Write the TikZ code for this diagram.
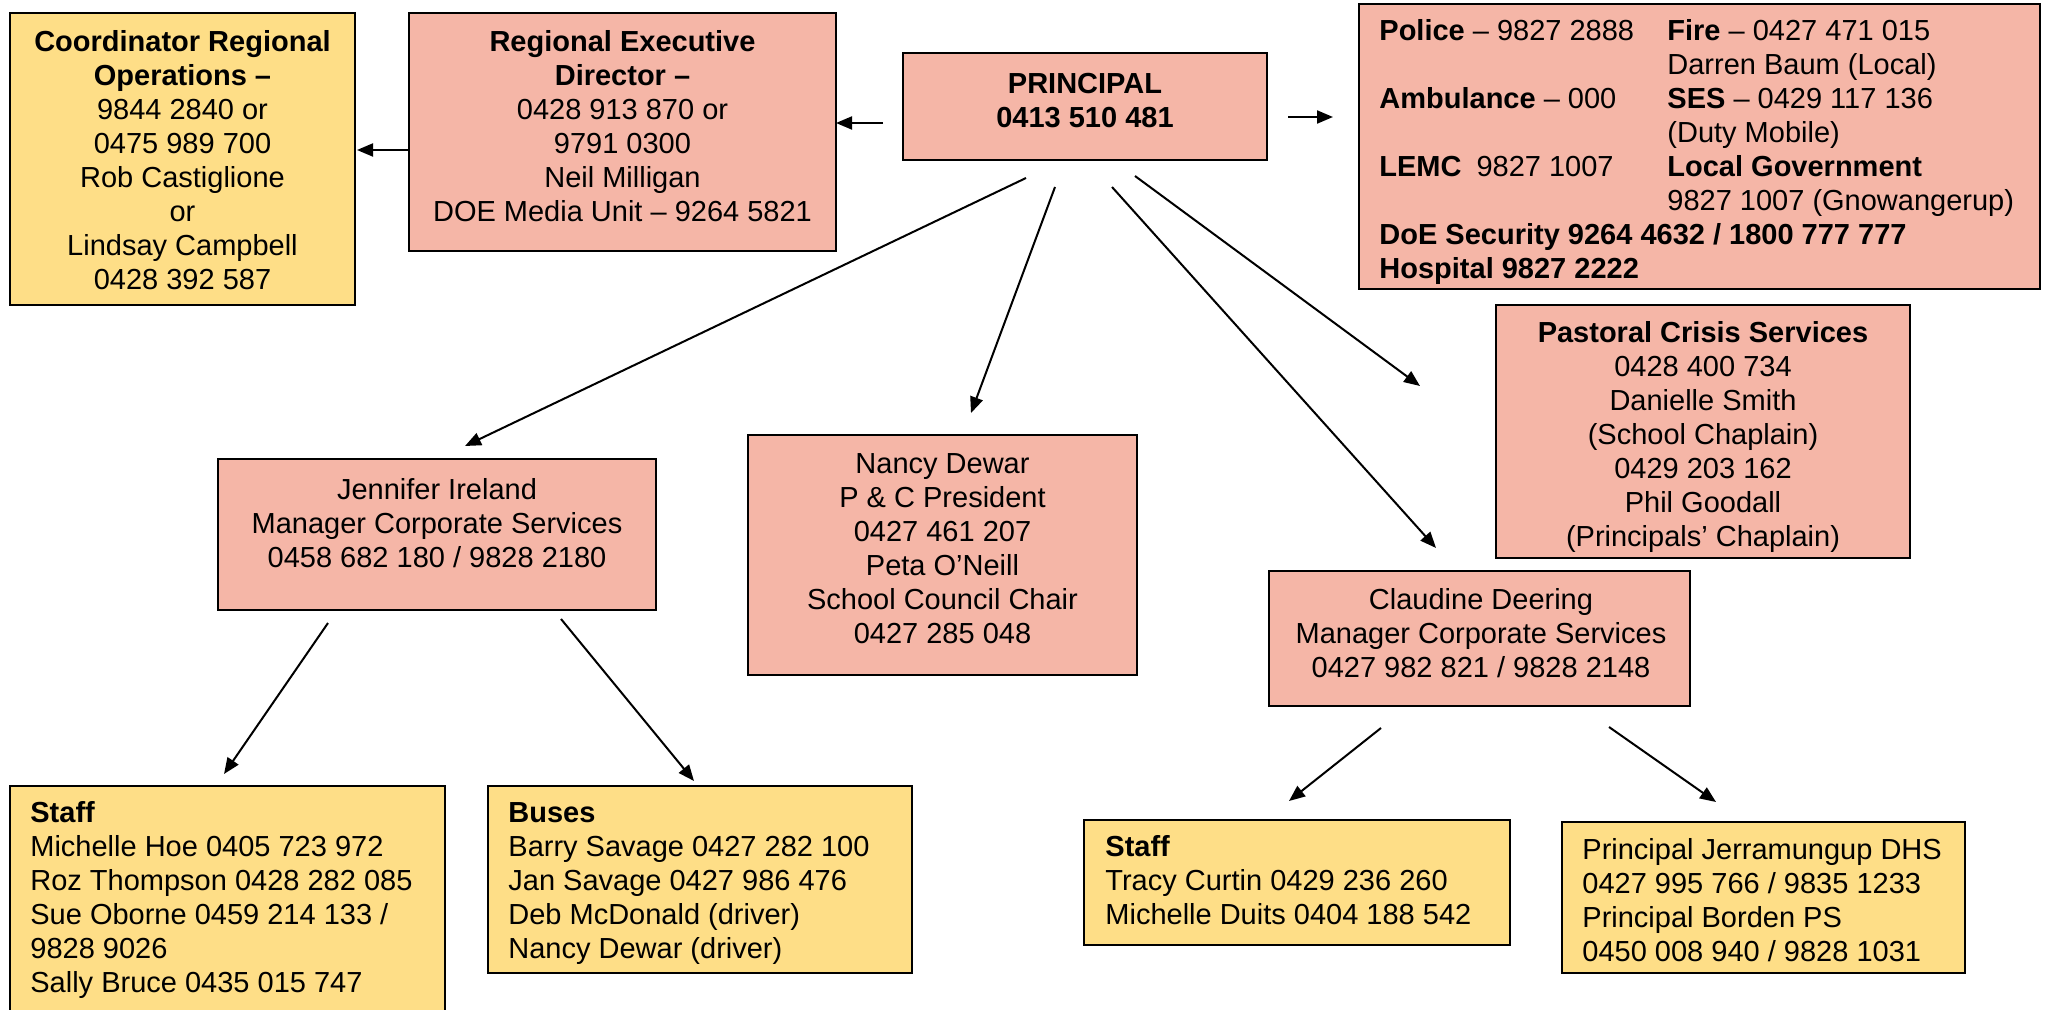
\documentclass[tikz,border=0pt]{standalone}
\usepackage{fontspec}
\setmainfont{Liberation Sans}
\usetikzlibrary{arrows.meta,fit}
\definecolor{boxpink}{RGB}{245,182,167}
\definecolor{boxyellow}{RGB}{254,222,135}

\begin{document}
\begin{tikzpicture}[x=0.5pt,y=-0.5pt,
  box/.style={draw=black, line width=1.25pt, inner sep=0pt, outer sep=0pt},
  pinkbox/.style={box, fill=boxpink},
  yellowbox/.style={box, fill=boxyellow},
  txt/.style={inner sep=0pt, font=\fontsize{14.5}{17}\selectfont},
  ctxt/.style={txt, align=center, anchor=north},
  ltxt/.style={txt, align=left, anchor=north west},
  arr/.style={line width=1pt, -{Triangle[length=8pt,width=6.5pt]}},
]
\fill[white] (0,0) rectangle (2049,1010);
\useasboundingbox (0,0) rectangle (2049,1010);

% ---- boxes ----
\node[yellowbox, fit={(10,13) (355,305)}] (coord) {};
\node[pinkbox, fit={(409,13) (836,251)}] (red) {};
\node[pinkbox, fit={(903,53) (1267,160)}] (principal) {};
\node[pinkbox, fit={(1359,4) (2040,289)}] (emerg) {};
\node[pinkbox, fit={(1496,305) (1910,558)}] (pastoral) {};
\node[pinkbox, fit={(1269,571) (1690,706)}] (claudine) {};
\node[pinkbox, fit={(218,459) (656,610)}] (jennifer) {};
\node[pinkbox, fit={(748,435) (1137,675)}] (nancy) {};
\node[yellowbox, fit={(10,786) (445,1016)}] (staffL) {};
\node[yellowbox, fit={(488,786) (912,973)}] (buses) {};
\node[yellowbox, fit={(1084,820) (1510,945)}] (staffR) {};
\node[yellowbox, fit={(1562,822) (1965,973)}] (schools) {};

% ---- texts ----
\node[ctxt] (coordT) at (182.5,27.2) {\strut\textbf{Coordinator Regional}\\\textbf{Operations –}\\9844 2840 or\\0475 989 700\\Rob Castiglione\\or\\Lindsay Campbell\\0428 392 587};
\node[ctxt] (redT) at (622.5,27.2) {\strut\textbf{Regional Executive}\\\textbf{Director –}\\0428 913 870 or\\9791 0300\\Neil Milligan\\DOE Media Unit – 9264 5821};
\node[ctxt] (principalT) at (1085,69.2) {\strut\textbf{PRINCIPAL}\\\textbf{0413 510 481}};
\node[ltxt] (emergT) at (1379,16.2) {\strut\makebox[144pt][l]{\textbf{Police} – 9827 2888}\textbf{Fire} – 0427 471 015\\
\hspace*{144pt}Darren Baum (Local)\\
\makebox[144pt][l]{\textbf{Ambulance} – 000}\textbf{SES} – 0429 117 136\\
\hspace*{144pt}(Duty Mobile)\\
\makebox[144pt][l]{\textbf{LEMC}\hspace{7.5pt}9827 1007}\textbf{Local Government}\\
\hspace*{144pt}9827 1007 (Gnowangerup)\\
\textbf{DoE Security 9264 4632 / 1800 777 777}\\
\textbf{Hospital 9827 2222}};
\node[ctxt] (pastoralT) at (1703,318.2) {\strut\textbf{Pastoral Crisis Services}\\0428 400 734\\Danielle Smith\\(School Chaplain)\\0429 203 162\\Phil Goodall\\(Principals’ Chaplain)};
\node[ctxt] (claudineT) at (1481,585.2) {\strut Claudine Deering\\Manager Corporate Services\\0427 982 821 / 9828 2148};
\node[ctxt] (jenniferT) at (437,475.2) {\strut Jennifer Ireland\\Manager Corporate Services\\0458 682 180 / 9828 2180};
\node[ctxt] (nancyT) at (942.5,449.2) {\strut Nancy Dewar\\P \& C President\\0427 461 207\\Peta O’Neill\\School Council Chair\\0427 285 048};
\node[ltxt] (staffLT) at (30,798.2) {\strut\textbf{Staff}\\Michelle Hoe 0405 723 972\\Roz Thompson 0428 282 085\\Sue Oborne 0459 214 133 /\\9828 9026\\Sally Bruce 0435 015 747};
\node[ltxt] (busesT) at (508,798.2) {\strut\textbf{Buses}\\Barry Savage 0427 282 100\\Jan Savage 0427 986 476\\Deb McDonald (driver)\\Nancy Dewar (driver)};
\node[ltxt] (staffRT) at (1105,832.2) {\strut\textbf{Staff}\\Tracy Curtin 0429 236 260\\Michelle Duits 0404 188 542};
\node[ltxt] (schoolsT) at (1582,835.2) {\strut Principal Jerramungup DHS\\0427 995 766 / 9835 1233\\Principal Borden PS\\0450 008 940 / 9828 1031};

% ---- connector end points ----
\coordinate (pr-s) at (883,123);   \coordinate (pr-e) at (836,123);
\coordinate (rc-s) at (408,150);   \coordinate (rc-e) at (357,150);
\coordinate (pe-s) at (1288,117);  \coordinate (pe-e) at (1333,117);
\coordinate (pj-s) at (1026,178);  \coordinate (pj-e) at (465,446);
\coordinate (pn-s) at (1055,187);  \coordinate (pn-e) at (971,413);
\coordinate (pc-s) at (1112,187);  \coordinate (pc-e) at (1436,548);
\coordinate (pp-s) at (1135,176);  \coordinate (pp-e) at (1420,386);
\coordinate (js-s) at (328,623);   \coordinate (js-e) at (224,774);
\coordinate (jb-s) at (561,619);   \coordinate (jb-e) at (694,781);
\coordinate (cs-s) at (1381,728);  \coordinate (cs-e) at (1289,801);
\coordinate (cp-s) at (1609,727);  \coordinate (cp-e) at (1716,802);

% ---- connectors ----
\draw[arr] (pr-s) -- (pr-e);
\draw[arr] (rc-s) -- (rc-e);
\draw[arr] (pe-s) -- (pe-e);
\draw[arr] (pj-s) -- (pj-e);
\draw[arr] (pn-s) -- (pn-e);
\draw[arr] (pc-s) -- (pc-e);
\draw[arr] (pp-s) -- (pp-e);
\draw[arr] (js-s) -- (js-e);
\draw[arr] (jb-s) -- (jb-e);
\draw[arr] (cs-s) -- (cs-e);
\draw[arr] (cp-s) -- (cp-e);
\end{tikzpicture}
\end{document}
